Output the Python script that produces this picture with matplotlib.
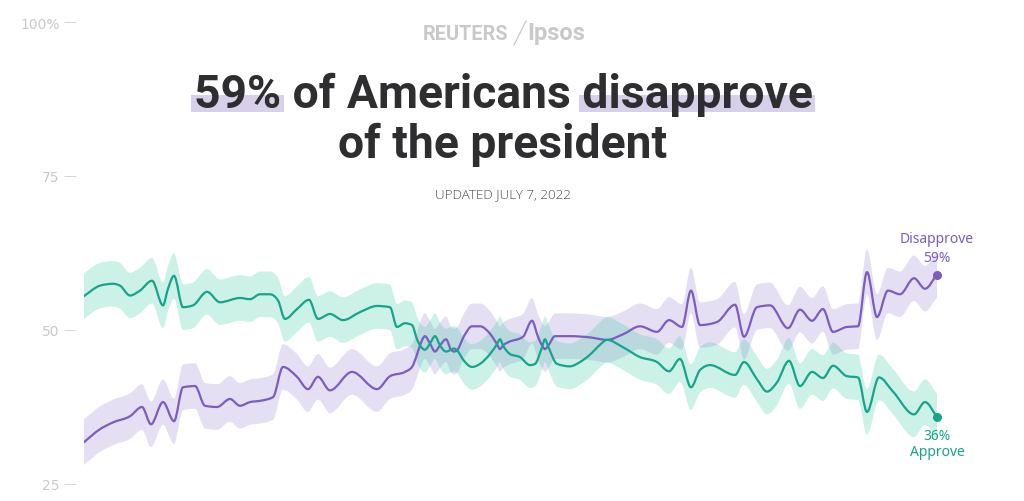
import numpy as np
import matplotlib.pyplot as plt
from matplotlib.patches import Rectangle, PathPatch
from matplotlib.lines import Line2D
from matplotlib.path import Path

# ------------------------------------------------------------
# Reuters/Ipsos approval tracker
# t = position along the timeline (0 = first poll), pct = share
# ------------------------------------------------------------
approve_t = [0, 16, 29, 36, 46, 56, 68, 79, 84, 90,
             99, 109, 123, 136, 156, 166, 176, 186, 194, 201,
             213, 225, 234, 246, 259, 276, 293, 306, 313, 321,
             328, 333, 336, 341, 346, 351, 356, 362, 367, 370,
             373, 380, 388, 396, 406, 413, 416, 419, 426, 436,
             446, 451, 458, 461, 464, 473, 486, 496, 506, 516,
             523, 539, 556, 573, 585, 596, 607, 616, 626, 651,
             660, 673, 683, 693, 705, 716, 728, 739, 749, 763,
             774, 783, 795, 809, 830, 841, 853]
approve_pct = [55.5, 57.2, 57.5, 57.2, 55.6, 56.4, 58.0, 54.0, 56.7, 58.8,
               53.7, 54.0, 56.2, 54.5, 55.2, 55.0, 55.8, 55.8, 54.8, 51.8,
               53.4, 54.9, 51.8, 52.6, 51.6, 52.9, 53.9, 53.7, 50.5, 51.1,
               50.8, 48.5, 47.5, 46.8, 47.8, 49.0, 47.5, 46.5, 46.8, 47.0,
               46.7, 45.0, 44.0, 44.5, 46.1, 47.7, 48.5, 47.5, 46.1, 45.6,
               44.3, 44.5, 47.2, 48.5, 47.4, 44.5, 44.1, 44.8, 46.0, 47.6,
               48.4, 47.2, 45.6, 44.8, 43.3, 45.3, 40.7, 43.5, 44.3, 42.7,
               44.8, 42.0, 40.0, 41.5, 45.0, 40.9, 43.2, 42.2, 44.2, 42.5,
               42.3, 36.7, 42.3, 40.0, 36.3, 38.3, 35.9]

disapprove_t = [0, 16, 29, 46, 58, 67, 79, 90, 99, 111,
                121, 133, 146, 156, 166, 176, 189, 199, 213, 224,
                234, 246, 268, 293, 306, 321, 328, 333, 336, 341,
                346, 351, 356, 362, 367, 370, 373, 380, 388, 396,
                406, 413, 416, 419, 424, 439, 448, 454, 458, 461,
                464, 471, 486, 506, 523, 539, 556, 573, 585, 598,
                607, 616, 633, 651, 660, 673, 686, 704, 716, 728,
                739, 749, 763, 774, 783, 793, 804, 816, 830, 841,
                853]
disapprove_pct = [31.8, 33.9, 35.0, 36.0, 37.5, 34.7, 38.3, 35.2, 40.7, 40.9,
                  37.7, 37.5, 38.8, 37.7, 38.3, 38.5, 39.1, 44.0, 42.4, 40.4,
                  42.4, 40.2, 43.2, 40.4, 42.5, 43.2, 44.0, 46.0, 47.5, 49.0,
                  47.8, 46.5, 47.5, 48.5, 46.8, 46.5, 46.7, 49.0, 50.6, 50.6,
                  49.4, 47.7, 46.9, 47.5, 48.0, 48.9, 51.5, 48.9, 47.5, 46.9,
                  47.4, 49.0, 49.0, 48.8, 48.4, 49.3, 50.6, 49.7, 51.6, 50.5,
                  56.4, 50.8, 51.3, 54.1, 48.9, 53.7, 54.0, 50.3, 53.3, 51.5,
                  53.4, 49.7, 50.5, 50.6, 59.4, 52.1, 56.4, 55.8, 58.4, 56.7,
                  59.0]

# width of the shaded uncertainty band (+/- points)
band_half_width = 3.7

y_ticks = [25, 50, 75, 100]
y_tick_labels = ['25', '50', '75', '100%']

title_line_1 = '59% of Americans disapprove'
title_line_2 = 'of the president'
highlight_words = ['59%', 'disapprove']
updated_text = 'UPDATED JULY 7, 2022'

PURPLE = '#7b5cbf'
GREEN = '#16a48b'
PURPLE_FILL = '#9b83d7'
GREEN_FILL = '#37cba3'
GREY = '#c9c9c9'
DARK = '#2e2e30'


def monotone_bezier(x, y):
    """Cubic bezier vertices through the points (monotone in x, like d3)."""
    x = np.asarray(x, float)
    y = np.asarray(y, float)
    h = np.diff(x)
    s = np.diff(y) / h
    m = np.zeros(len(x))
    m[0], m[-1] = s[0], s[-1]
    for i in range(1, len(x) - 1):
        if s[i - 1] * s[i] <= 0:
            m[i] = 0
        else:
            p = (s[i - 1] * h[i] + s[i] * h[i - 1]) / (h[i - 1] + h[i])
            m[i] = np.sign(s[i]) * min(abs(s[i - 1]), abs(s[i]), 0.5 * abs(p)) * 2
    verts = [(x[0], y[0])]
    for i in range(len(x) - 1):
        d = h[i] / 3
        verts += [(x[i] + d, y[i] + m[i] * d),
                  (x[i + 1] - d, y[i + 1] - m[i + 1] * d),
                  (x[i + 1], y[i + 1])]
    return verts


def line_path(x, y):
    v = monotone_bezier(x, y)
    return Path(v, [Path.MOVETO] + [Path.CURVE4] * (len(v) - 1))


def band_path(x, lo, hi):
    up = monotone_bezier(x, hi)
    down = monotone_bezier(x, lo)[::-1]
    v = up + down + [up[0]]
    codes = ([Path.MOVETO] + [Path.CURVE4] * (len(up) - 1)
             + [Path.LINETO] + [Path.CURVE4] * (len(down) - 1)
             + [Path.CLOSEPOLY])
    return Path(v, codes)


W, H = 1024, 502
fig = plt.figure(figsize=(W / 100, H / 100), dpi=100)
ax = fig.add_axes([84 / W, 17 / H, 853 / W, 462 / H])
ax.set_facecolor('none')

# ---- bands and lines ----
at = np.array(approve_t, float)
ap = np.array(approve_pct)
dt = np.array(disapprove_t, float)
dp = np.array(disapprove_pct)

ax.add_patch(PathPatch(band_path(dt, dp - band_half_width, dp + band_half_width),
                       facecolor=PURPLE_FILL, alpha=0.25, lw=0, zorder=1))
ax.add_patch(PathPatch(band_path(at, ap - band_half_width, ap + band_half_width),
                       facecolor=GREEN_FILL, alpha=0.25, lw=0, zorder=1))
ax.add_patch(PathPatch(line_path(dt, dp), fill=False, edgecolor=PURPLE,
                       lw=1.6, joinstyle='round', capstyle='round', zorder=3))
ax.add_patch(PathPatch(line_path(at, ap), fill=False, edgecolor=GREEN,
                       lw=1.6, joinstyle='round', capstyle='round', zorder=3))

# end dots + labels
ax.scatter([dt[-1]], [dp[-1]], s=30, color=PURPLE, zorder=4, clip_on=False)
ax.scatter([at[-1]], [ap[-1]], s=30, color=GREEN, zorder=4, clip_on=False)
lbl = dict(ha='center', va='center', textcoords='offset pixels',
           family='Noto Sans', annotation_clip=False)
ax.annotate('Disapprove', (dt[-1], dp[-1]), xytext=(0, 36), color=PURPLE,
            fontsize=10, **lbl)
ax.annotate(f'{dp[-1]:.0f}%', (dt[-1], dp[-1]), xytext=(0, 17), color=PURPLE,
            fontsize=10, fontweight='semibold', **lbl)
ax.annotate(f'{ap[-1]:.0f}%', (at[-1], ap[-1]), xytext=(0, -19), color=GREEN,
            fontsize=10, fontweight='semibold', **lbl)
ax.annotate('Approve', (at[-1], ap[-1]), xytext=(0, -35), color=GREEN,
            fontsize=10, **lbl)

# ---- axes styling ----
ax.set_xlim(approve_t[0], approve_t[-1])
ax.set_ylim(25, 100)
ax.set_xticks([])
ax.set_yticks(y_ticks)
ax.set_yticklabels(y_tick_labels, family='Noto Sans', fontsize=8)
ax.spines['left'].set_position(('outward', 5.8))
for s in ax.spines.values():
    s.set_visible(False)
ax.tick_params(axis='y', length=8.6, width=0.7, color='#d6d6d6',
               labelcolor=GREY, pad=3)

# ---- header ----
def fx(px):
    return px / W

def fy(py):
    return (H - py) / H

fig.text(fx(508), fy(40), 'REUTERS', ha='right', va='baseline',
         family='Roboto', fontweight='bold', fontsize=14.3, color=GREY)
fig.add_artist(Line2D([fx(514), fx(526)], [fy(46), fy(22)],
                      color=GREY, lw=0.9, transform=fig.transFigure))
fig.text(fx(527), fy(40), 'Ipsos', ha='left', va='baseline',
         family='Roboto', fontweight='bold', fontsize=17, color=GREY)

title_kw = dict(family='Roboto', fontweight='bold', fontsize=33,
                color=DARK, zorder=5)
fig.text(fx(503), fy(198), updated_text, ha='center', va='baseline',
         family='Open Sans', fontweight='light', fontsize=9.6, color='#4d4d4d')

fig.canvas.draw()
r = fig.canvas.get_renderer()


def text_width(s, **kw):
    tmp = fig.text(0, 0, s, **kw)
    w = tmp.get_window_extent(r).width
    tmp.remove()
    return w


# scale the headline so its first line spans the same width as the original
title_kw['fontsize'] *= 620 / text_width(title_line_1, **title_kw)
t1 = fig.text(fx(503), fy(108), title_line_1, ha='center', va='baseline',
              **title_kw)
fig.text(fx(503), fy(158), title_line_2, ha='center', va='baseline',
         **title_kw)

# lavender highlight behind key words of the headline
full = t1.get_window_extent(r)
w_first = text_width(highlight_words[0], **title_kw)
w_last = text_width(highlight_words[1], **title_kw)
pad = 3
for x0, w in [(full.x0 - pad, w_first + 2 * pad),
              (full.x1 - w_last - pad, w_last + 2 * pad)]:
    fig.add_artist(Rectangle((x0 / W, fy(113)), w / W, 17 / H,
                             transform=fig.transFigure, color='#d8d0ea',
                             lw=0, zorder=1))

fig.savefig('out.png', dpi=100)
